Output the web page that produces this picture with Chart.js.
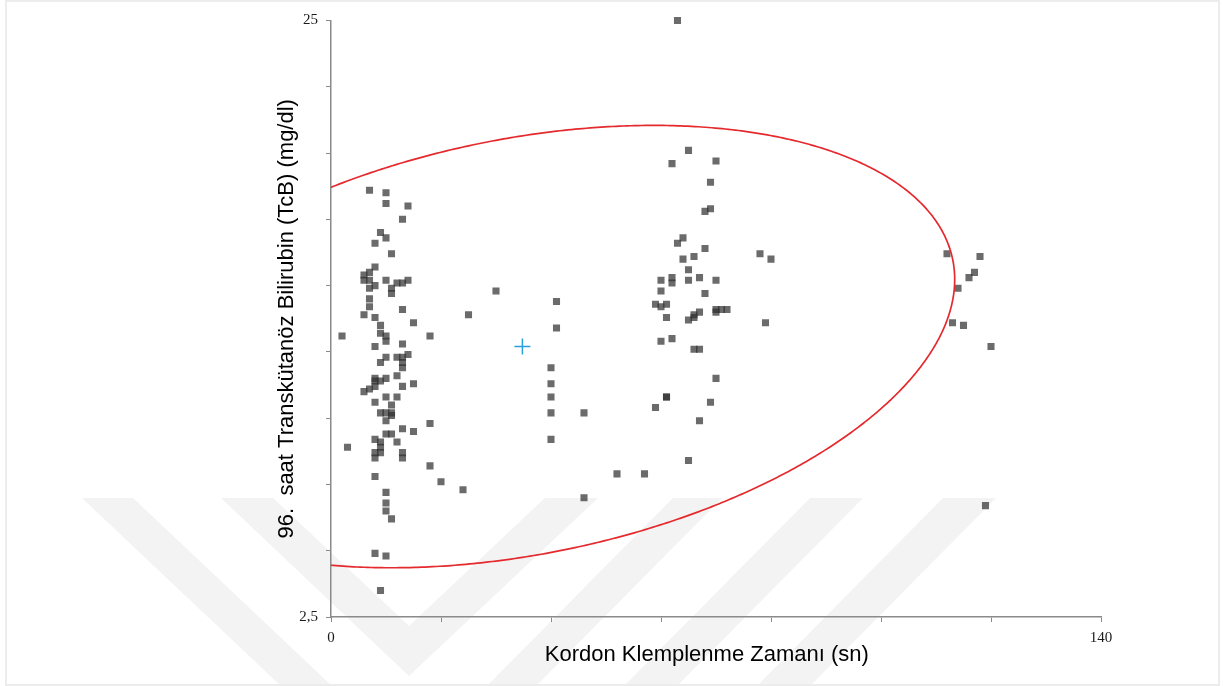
<!DOCTYPE html>
<html><head><meta charset="utf-8">
<script src="https://cdn.jsdelivr.net/npm/chart.js@4/dist/chart.umd.min.js"></script>
<style>html,body{margin:0;padding:0;background:#fff;overflow:hidden}#wrap{width:1223px;height:686px}</style>
</head><body><div id="wrap"><canvas id="c" width="1223" height="686"></canvas></div>
<script>
// Cord clamping time (s)
const clampTimes = [
  7,10,10,14,13,9,10,8,11,8,7,6,6,7,10,8,7,11,11,12,13,14,7,7,13,6,8,9,15,2,
  9,10,10,18,8,13,10,9,12,13,14,13,13,12,8,8,9,10,15,6,7,8,13,10,12,8,11,9,10,11,
  11,10,13,15,18,10,11,8,9,12,9,3,8,9,13,8,13,18,20,8,10,10,10,11,8,10,9,
  24,25,30,41,41,40,40,40,40,46,40,52,46,57,
  63,65,62,70,69,69,68,64,63,68,78,80,64,66,65,60,62,62,65,67,70,60,68,59,61,60,61,65,66,66,
  67,70,70,71,72,79,60,62,66,67,70,61,61,59,69,67,65,
  112,118,117,116,114,113,115,120,119
];
// 96th hour transcutaneous bilirubin (mg/dl)
const tcbValues = [
  18.6,18.5,18.1,18.0,17.5,17.0,16.8,16.6,16.2,15.7,15.5,15.4,15.2,15.2,15.2,15.0,14.9,14.9,14.7,15.1,15.1,15.2,14.5,14.2,14.1,13.9,13.8,13.5,13.6,13.1,
  13.2,13.1,12.9,13.1,12.7,12.8,12.3,12.1,12.3,12.3,12.4,12.1,11.9,11.6,11.5,11.4,11.4,11.5,11.3,11.0,11.1,11.2,11.2,10.8,10.8,10.6,10.5,10.2,10.2,10.2,
  10.1,9.9,9.6,9.5,9.8,9.4,9.4,9.2,9.1,9.1,8.9,8.9,8.7,8.7,8.7,8.5,8.5,8.2,7.6,7.8,7.2,6.8,6.5,6.2,4.9,4.8,3.5,
  7.3,13.9,14.8,14.4,13.4,11.9,11.3,10.8,10.2,10.2,9.2,7.9,7.0,7.9,
  25.0,20.1,19.6,19.7,18.9,17.9,17.8,16.8,16.6,16.4,16.2,16.0,16.0,16.1,15.6,15.2,15.3,15.1,15.2,15.3,15.2,14.8,14.7,14.3,14.3,14.2,13.8,13.7,13.8,13.9,
  14.0,14.1,14.0,14.1,14.1,13.6,12.9,13.0,12.6,12.6,11.5,10.8,10.8,10.4,10.6,9.9,8.4,
  16.2,16.1,15.5,15.3,14.9,13.6,13.5,12.7,6.7
];
// Mean point (blue cross) and confidence ellipse (centre + conjugate semi-axes, data units)
const meanPoint = [34.8, 12.7];
const ellipseCenter = [34.8, 12.7];
const ellipseAxisU = [78.6, 2.53];
const ellipseAxisV = [0, 7.95];
// Axis ranges and the only labelled ticks
const xRange = [0, 140, 20];
const yRange = [2.5, 25, 2.5];
const xTickLabels = ['0', '140'];
const yTickLabels = ['2,5', '25'];
const xTitle = 'Kordon Klemplenme Zamanı (sn)   ';
const yTitle = '96.  saat Transkütanöz Bilirubin (TcB) (mg/dl)';

const scatterData = clampTimes.map((x, i) => ({x: x, y: tcbValues[i]}));

const backgroundPlugin = {
  id: 'bg',
  beforeDraw(chart) {
    const ctx = chart.ctx;
    ctx.save();
    ctx.fillStyle = '#ffffff';
    ctx.fillRect(0, 0, chart.width, chart.height);
    ctx.fillStyle = '#f3f3f3';
    const polys = [
      [[82,498],[133,498],[332,686],[281,686]],
      [[221,498],[273,498],[409,626],[545,498],[598,498],[409,676]],
      [[673,498],[722,498],[536,686],[487,686]],
      [[810,498],[863,498],[677,686],[624,686]],
      [[943,498],[996,498],[810,686],[757,686]]
    ];
    polys.forEach(p => {
      ctx.beginPath();
      ctx.moveTo(p[0][0], p[0][1]);
      for (let i = 1; i < p.length; i++) ctx.lineTo(p[i][0], p[i][1]);
      ctx.closePath();
      ctx.fill();
    });
    ctx.strokeStyle = '#ececec';
    ctx.lineWidth = 2;
    ctx.strokeRect(6, 1, 1213, 684);
    ctx.restore();
  }
};

const ellipsePlugin = {
  id: 'ellipse',
  afterDatasetsDraw(chart) {
    const {ctx, chartArea, scales} = chart;
    const sx = scales.x, sy = scales.y;
    ctx.save();
    ctx.beginPath();
    ctx.rect(chartArea.left, chartArea.top, chartArea.right - chartArea.left, chartArea.bottom - chartArea.top);
    ctx.clip();
    ctx.beginPath();
    for (let i = 0; i <= 720; i++) {
      const t = i * Math.PI / 360;
      const vx = ellipseCenter[0] + ellipseAxisU[0] * Math.cos(t) + ellipseAxisV[0] * Math.sin(t);
      const vy = ellipseCenter[1] + ellipseAxisU[1] * Math.cos(t) + ellipseAxisV[1] * Math.sin(t);
      const px = sx.getPixelForValue(vx), py = sy.getPixelForValue(vy);
      if (i === 0) ctx.moveTo(px, py); else ctx.lineTo(px, py);
    }
    ctx.strokeStyle = '#e52a2e';
    ctx.lineWidth = 1.7;
    ctx.stroke();
    ctx.restore();
  }
};

new Chart(document.getElementById('c'), {
  type: 'scatter',
  data: {
    datasets: [
      {
        data: scatterData,
        clip: 8,
        pointStyle: 'rect',
        pointRadius: 5,
        pointBackgroundColor: 'rgba(47,47,47,0.71)',
        pointBorderWidth: 0,
        pointHoverRadius: 5
      },
      {
        data: [{x: meanPoint[0], y: meanPoint[1]}],
        pointStyle: 'cross',
        pointRadius: 8,
        pointBorderColor: '#2b9fdb',
        pointBorderWidth: 1.5
      }
    ]
  },
  options: {
    responsive: false,
    animation: false,
    events: [],
    layout: {padding: {left: 5, right: 122, top: 20.5, bottom: 0}},
    plugins: {legend: {display: false}, tooltip: {enabled: false}},
    scales: {
      x: {
        type: 'linear', min: xRange[0], max: xRange[1],
        afterFit: s => { s.height = 69; },
        ticks: {
          stepSize: xRange[2], autoSkip: false, maxRotation: 0, padding: 7,
          color: '#1a1a1a', font: {family: 'Liberation Serif', size: 15},
          callback: v => v === xRange[0] ? xTickLabels[0] : (v === xRange[1] ? xTickLabels[1] : '')
        },
        grid: {drawOnChartArea: false, drawTicks: true, tickLength: 5, color: '#8a8a8a', lineWidth: 1},
        border: {display: true, color: '#8a8a8a', width: 1.5},
        title: {display: true, text: xTitle, color: '#000', font: {family: 'Liberation Sans', size: 22}, padding: {top: 0, bottom: 18}}
      },
      y: {
        type: 'linear', min: yRange[0], max: yRange[1],
        afterFit: s => { s.width = 326; },
        ticks: {
          stepSize: yRange[2], autoSkip: false, padding: 8,
          color: '#1a1a1a', font: {family: 'Liberation Serif', size: 15},
          callback: v => v === yRange[0] ? yTickLabels[0] : (v === yRange[1] ? yTickLabels[1] : '')
        },
        grid: {drawOnChartArea: false, drawTicks: true, tickLength: 5, color: '#8a8a8a', lineWidth: 1},
        border: {display: true, color: '#8a8a8a', width: 1.5},
        title: {display: true, text: yTitle, color: '#000', font: {family: 'Liberation Sans', size: 22}, padding: {top: 269, bottom: 0}}
      }
    }
  },
  plugins: [backgroundPlugin, ellipsePlugin]
});
</script>
</body></html>
